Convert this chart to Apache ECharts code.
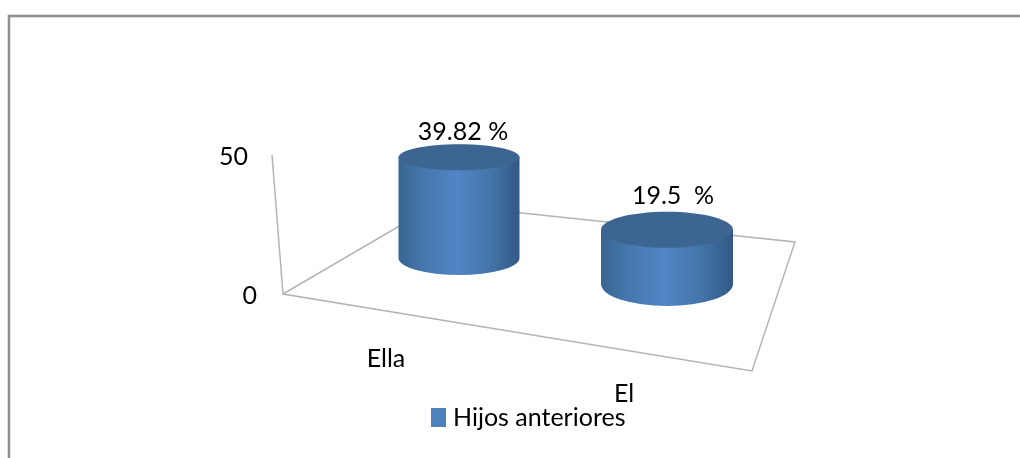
<!DOCTYPE html>
<html>
<head>
<meta charset="utf-8">
<style>
  html, body { margin: 0; padding: 0; background: #fff; }
  #chart { width: 1020px; height: 458px; }
</style>
<script src="https://cdn.jsdelivr.net/npm/echarts@6/dist/echarts.min.js"></script>
</head>
<body>
<div id="chart"></div>
<script>
  const categories = ['Ella', 'El']
  const hijosAnteriores = [39.82, 19.5]
  const valueLabels = ['39.82 %', '19.5  %']
  const seriesName = 'Hijos anteriores'

  const font = 'Lato, sans-serif'

  // fake 3d: how each cylinder sits on the tilted floor
  const view = [
    { lift: 38, scale: 0.91, rx: 60.5, topRy: 13, baseRy: 17, labelX: 4, labelY: 25 },
    { lift: 12, scale: 1, rx: 66, topRy: 18, baseRy: 22, labelX: 6, labelY: 34 }
  ]

  const sideGradient = {
    type: 'linear', x: 0, y: 0, x2: 1, y2: 0,
    colorStops: [
      { offset: 0, color: '#386591' },
      { offset: 0.2, color: '#4577ad' },
      { offset: 0.48, color: '#5085c5' },
      { offset: 0.75, color: '#4476aa' },
      { offset: 1, color: '#325884' }
    ]
  }

  function renderCylinder(params, api) {
    const i = api.value(0)
    const v = view[i]
    const base = api.coord([i, 0])
    const top = api.coord([i, api.value(1)])
    const cx = base[0]
    const by = base[1] - v.lift
    const ty = by - (base[1] - top[1]) * v.scale
    const path = 'M' + (cx - v.rx) + ' ' + ty +
      ' L' + (cx + v.rx) + ' ' + ty +
      ' L' + (cx + v.rx) + ' ' + by +
      ' A' + v.rx + ' ' + v.baseRy + ' 0 0 1 ' + (cx - v.rx) + ' ' + by + ' Z'
    return {
      type: 'group',
      children: [
        {
          type: 'path',
          shape: { pathData: path },
          style: { fill: sideGradient }
        },
        {
          type: 'ellipse',
          shape: { cx: cx, cy: ty, rx: v.rx, ry: v.topRy },
          style: { fill: '#3d6591' }
        },
        {
          type: 'text',
          style: {
            x: cx + v.labelX,
            y: ty - v.labelY,
            text: valueLabels[i],
            font: '25px ' + font,
            fill: '#000',
            align: 'center',
            verticalAlign: 'middle'
          }
        }
      ]
    }
  }

  const chart = echarts.init(document.getElementById('chart'))
  chart.setOption({
    animation: false,
    backgroundColor: '#fff',
    grid: { left: 355, right: 249, top: 157, bottom: 162 },
    legend: {
      data: [{ name: seriesName, icon: 'rect' }],
      left: 431,
      top: 405,
      padding: 0,
      itemWidth: 15,
      itemHeight: 19,
      itemGap: 0,
      textStyle: { fontFamily: font, fontSize: 25, color: '#000', padding: [2, 0, 0, 2] }
    },
    xAxis: {
      type: 'category',
      data: categories,
      axisLine: { show: false },
      axisTick: { show: false },
      axisLabel: {
        interval: 0,
        margin: 0,
        formatter: (name) => '{' + (name === 'Ella' ? 'ella' : 'el') + '|' + name + '}',
        rich: {
          ella: { fontFamily: font, fontSize: 25, lineHeight: 28, color: '#000', padding: [98, 146, 0, 0] },
          el: { fontFamily: font, fontSize: 25, lineHeight: 28, color: '#000', padding: [168, 86, 0, 0] }
        }
      }
    },
    yAxis: {
      type: 'value',
      min: 0,
      max: 50,
      interval: 50,
      axisLine: { show: false },
      axisTick: { show: false },
      splitLine: { show: false },
      axisLabel: {
        margin: 98,
        formatter: (val) => (val === 50 ? '{top|50}' : '{low|' + val + '}'),
        rich: {
          top: { fontFamily: font, fontSize: 25, color: '#000', padding: [0, 9, 0, 0] },
          low: { fontFamily: font, fontSize: 25, color: '#000' }
        }
      }
    },
    graphic: [
      // frame of the picture
      { type: 'polyline', shape: { points: [[9, 458], [9, 16], [1020, 16]] }, style: { fill: null, stroke: '#8f8f8f', lineWidth: 2.5 } },
      // tilted wall and floor
      { type: 'polyline', shape: { points: [[272, 155], [283, 294], [752, 371], [795, 242], [437, 204], [283, 294]] }, style: { fill: null, stroke: '#b4b4b4', lineWidth: 1.5 } }
    ],
    series: [
      {
        name: seriesName,
        type: 'custom',
        coordinateSystem: 'cartesian2d',
        clip: false,
        itemStyle: { color: '#4f81bd' },
        encode: { x: 0, y: 1 },
        renderItem: renderCylinder,
        data: categories.map((c, i) => [i, hijosAnteriores[i]])
      }
    ]
  })
</script>
</body>
</html>
